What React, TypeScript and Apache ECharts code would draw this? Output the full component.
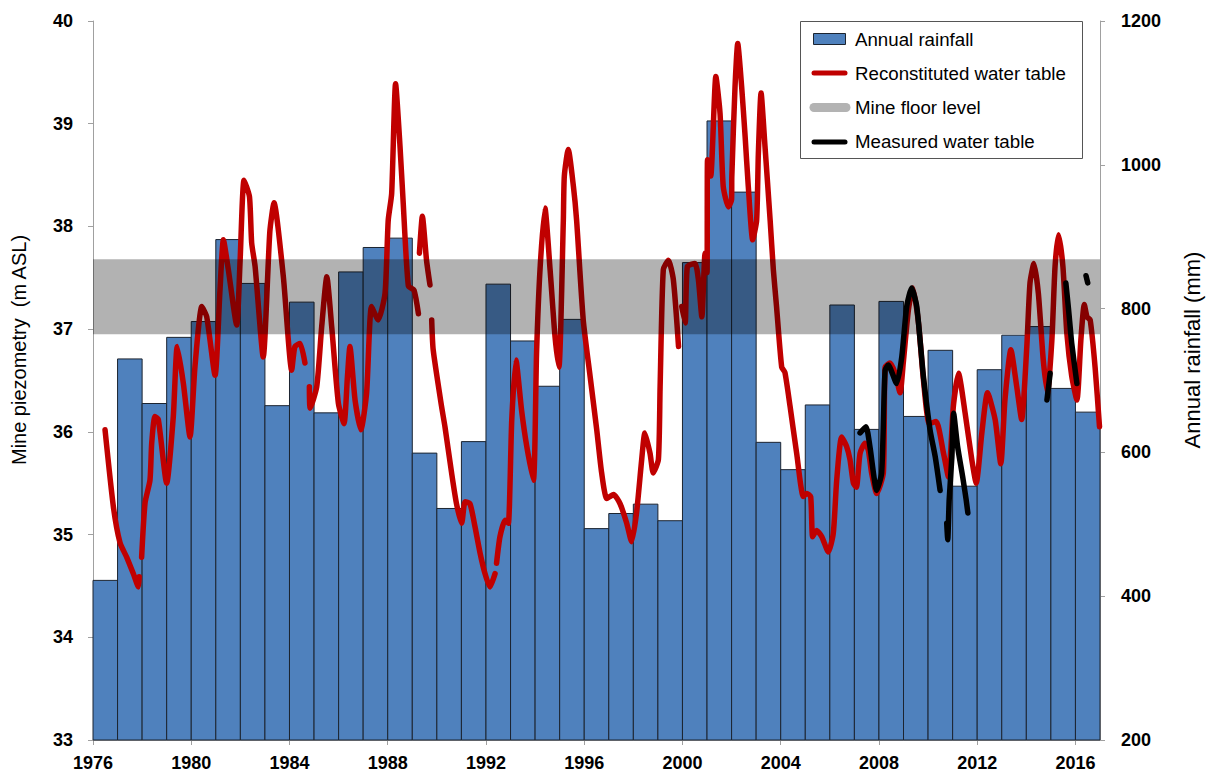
import React, { useEffect, useRef } from "react";
import * as echarts from "echarts";

// ---- Data ----
const rainfallYears = [
  1976, 1977, 1978, 1979, 1980, 1981, 1982, 1983, 1984, 1985, 1986, 1987, 1988, 1989,
  1990, 1991, 1992, 1993, 1994, 1995, 1996, 1997, 1998, 1999, 2000, 2001, 2002, 2003,
  2004, 2005, 2006, 2007, 2008, 2009, 2010, 2011, 2012, 2013, 2014, 2015, 2016,
];
const rainfallMm = [
  422, 730, 668, 760, 782, 896, 835, 665, 809, 655, 851, 885, 898, 599,
  522, 615, 834, 755, 692, 785, 494, 515, 528, 505, 864, 1061, 962, 614,
  576, 666, 805, 632, 810, 650, 742, 553, 715, 763, 775, 689, 656,
];

// Reconstituted water table (null = gap in the record)
const reconTime = [
  1976.49, 1976.83, 1977.1, 1977.37, 1977.64, 1977.85, 1977.88, 1977.93, 1977.98, 1978.12,
  1978.32, 1978.39, 1978.52, 1978.66, 1979.0, 1979.27, 1979.43, 1979.68, 1979.95, 1980.15,
  1980.43, 1980.63, 1980.97, 1981.17, 1981.31, 1981.51, 1981.85, 1981.99, 1982.15, 1982.37,
  1982.46, 1982.6, 1982.93, 1983.2, 1983.37, 1983.75, 1984.09, 1984.22, 1984.43, 1984.63,
  1984.72, 1984.81, 1984.84, 1985.11, 1985.31, 1985.52, 1985.72, 1985.99, 1986.22, 1986.36,
  1986.46, 1986.67, 1986.91, 1987.14, 1987.34, 1987.61, 1987.89, 1988.02, 1988.16, 1988.32,
  1988.5, 1988.63, 1988.84, 1989.07, 1989.25, 1989.27, 1989.29, 1989.41, 1989.58, 1989.72,
  1989.75, 1989.79, 1989.85, 1990.19, 1990.33, 1990.6, 1990.8, 1991.01, 1991.15, 1991.35,
  1991.55, 1991.76, 1991.96, 1992.16, 1992.37, 1992.4, 1992.43, 1992.57, 1992.78, 1992.91,
  1993.05, 1993.22, 1993.45, 1993.66, 1993.93, 1994.06, 1994.2, 1994.4, 1994.61, 1994.81,
  1994.97, 1995.15, 1995.19, 1995.35, 1995.56, 1995.69, 1995.96, 1996.24, 1996.51, 1996.71,
  1996.92, 1997.19, 1997.46, 1997.73, 1997.93, 1998.13, 1998.34, 1998.47, 1998.68, 1998.81,
  1999.02, 1999.09, 1999.22, 1999.43, 1999.63, 1999.84, 1999.9, 1999.97, 2000.11, 2000.2,
  2000.51, 2000.65, 2000.79, 2000.92, 2001.0, 2001.02, 2001.15, 2001.36, 2001.53, 2001.66,
  2001.87, 2002.0, 2002.01, 2002.14, 2002.25, 2002.41, 2002.55, 2002.68, 2002.86, 2003.02,
  2003.09, 2003.2, 2003.36, 2003.57, 2003.7, 2003.83, 2004.04, 2004.17, 2004.38, 2004.65,
  2004.92, 2005.06, 2005.22, 2005.3, 2005.46, 2005.67, 2005.94, 2006.14, 2006.28, 2006.48,
  2006.68, 2006.82, 2006.96, 2007.08, 2007.23, 2007.43, 2007.57, 2007.7, 2007.91, 2008.18,
  2008.25, 2008.45, 2008.66, 2008.86, 2008.99, 2009.2, 2009.38, 2009.61, 2009.81, 2010.05,
  2010.33, 2010.63, 2010.83, 2011.03, 2011.24, 2011.51, 2011.78, 2011.96, 2012.19, 2012.42,
  2012.73, 2012.96, 2013.13, 2013.37, 2013.61, 2013.81, 2014.02, 2014.15, 2014.31, 2014.49,
  2014.69, 2014.86, 2015.04, 2015.17, 2015.31, 2015.49, 2015.65, 2015.85, 2016.06, 2016.22,
  2016.36, 2016.47, 2016.6, 2016.8, 2016.98,
];
const reconLevel = [
  36.02, 35.27, 34.92, 34.78, 34.62, 34.49, 34.59, null, 34.78, 35.31,
  35.53, 35.89, 36.15, 36.12, 35.5, 36.15, 36.83, 36.47, 35.95, 36.63,
  37.22, 37.12, 36.55, 37.38, 37.87, 37.58, 37.04, 37.67, 38.45, 38.29,
  37.84, 37.61, 36.73, 37.95, 38.23, 37.51, 36.6, 36.83, 36.86, 36.67,
  null, 36.44, 36.23, 36.44, 37.02, 37.51, 37.02, 36.28, 36.08, 36.54,
  36.83, 36.31, 36.02, 36.38, 37.22, 37.09, 37.35, 38.06, 38.32, 39.39,
  38.78, 38.23, 37.42, 37.38, 37.15, null, 37.74, 38.1, 37.67, 37.43,
  null, 37.09, 36.8, 36.25, 36.05, 35.6, 35.3, 35.11, 35.32, 35.3,
  35.08, 34.82, 34.62, 34.49, 34.62, null, 34.72, 34.98, 35.14, 35.11,
  36.12, 36.7, 36.21, 35.86, 35.53, 36.77, 37.58, 38.18, 37.58, 36.93,
  36.63, 38.06, 38.49, 38.75, 38.39, 38.06, 37.09, 36.54, 36.02, 35.6,
  35.35, 35.39, 35.3, 35.11, 34.93, 35.21, 35.73, 35.99, 35.79, 35.6,
  35.73, 36.44, 37.58, 37.67, 37.48, 36.83, null, 37.22, 37.06, 37.61,
  37.64, 37.48, 37.12, 37.74, 37.55, 38.65, 38.49, 39.46, 39.1, 38.39,
  38.19, 38.26, 38.49, 39.36, 39.78, 39.36, 38.88, 38.39, 37.87, 38.06,
  38.71, 39.3, 38.78, 38.06, 37.58, 37.22, 36.63, 36.58, 36.25, 35.79,
  35.37, 35.4, 35.37, 34.98, 35.04, 34.98, 34.83, 35.01, 35.53, 35.95,
  35.86, 35.73, 35.5, 35.46, 35.79, 35.89, 35.82, 35.6, 35.4, 35.6,
  36.63, 36.67, 36.57, 36.38, 36.67, 37.19, 37.4, 37.06, 36.51, 36.08,
  36.1, 35.79, 35.56, 36.25, 36.57, 36.18, 35.73, 35.5, 35.99, 36.38,
  36.12, 35.69, 36.31, 36.8, 36.44, 36.12, 36.83, 37.45, 37.64, 37.35,
  36.7, 36.38, 36.89, 37.61, 37.92, 37.61, 36.96, 36.54, 36.31, 36.89,
  37.24, 37.12, 37.09, 36.63, 36.05,
];

// Measured water table (null = gap)
const measuredTime = [
  2007.23, 2007.47, 2007.63, 2007.91, 2008.11, 2008.25, 2008.38, 2008.72, 2008.93, 2009.13,
  2009.33, 2009.54, 2009.81, 2010.08, 2010.29, 2010.49, 2010.62, 2010.76, 2010.8, 2010.86,
  2010.97, 2011.04, 2011.2, 2011.41, 2011.55, 2011.62, 2013.0, 2014.84, 2014.97, 2015.3,
  2015.61, 2015.72, 2015.85, 2016.06, 2016.25, 2016.43, 2016.5,
];
const measuredLevel = [
  35.99, 36.05, 35.86, 35.43, 35.6, 36.6, 36.65, 36.47, 36.73, 37.22,
  37.4, 37.22, 36.54, 36.02, 35.76, 35.43, null, 35.11, 34.95, 35.34,
  35.76, 36.18, 35.86, 35.56, 35.34, 35.21, null, 36.31, 36.57, null,
  37.45, 37.19, 36.86, 36.47, null, 37.52, 37.45,
];

// Mine floor level band (m ASL)
const mineFloorBottom = 36.95;
const mineFloorTop = 37.68;

// Axis ticks
const yearTicks = [1976, 1980, 1984, 1988, 1992, 1996, 2000, 2004, 2008, 2012, 2016];
const levelRange = [33, 40];
const rainRange = [200, 1200];

const FONT = "'Liberation Sans', Arial, sans-serif";

export default function App() {
  const ref = useRef<HTMLDivElement>(null);

  useEffect(() => {
    if (!ref.current) return;
    const chart = echarts.init(ref.current, undefined, { renderer: "svg" });

    const toLine = (t: number[], v: (number | null)[]) =>
      t.map((x, i) => [x, v[i] === null ? "-" : v[i]]);

    const axisLineStyle = { color: "#a0a0a0", width: 1 };
    const tickLabel = { color: "#000", fontFamily: FONT, fontWeight: "bold" as const, fontSize: 18 };

    const option: any = {
      animation: false,
      backgroundColor: "#fff",
      grid: { left: 93, right: 110, top: 21, bottom: 41, containLabel: false },
      xAxis: {
        type: "value",
        min: 1976,
        max: 2017,
        interval: 4,
        splitLine: { show: false },
        axisLine: { show: true, lineStyle: axisLineStyle },
        axisTick: { show: true, length: 5, inside: false, lineStyle: axisLineStyle, customValues: yearTicks },
        axisLabel: {
          ...tickLabel,
          margin: 14,
          customValues: yearTicks,
          formatter: (v: number) => (v % 4 === 0 ? String(v) : ""),
        },
      },
      yAxis: [
        {
          type: "value",
          min: levelRange[0],
          max: levelRange[1],
          interval: 1,
          position: "left",
          splitLine: { show: false },
          axisLine: { show: true, lineStyle: axisLineStyle },
          axisTick: { show: true, length: 5, lineStyle: axisLineStyle },
          axisLabel: { ...tickLabel, margin: 20, formatter: (v: number) => String(v) },
        },
        {
          type: "value",
          min: rainRange[0],
          max: rainRange[1],
          interval: 200,
          position: "right",
          splitLine: { show: false },
          axisLine: { show: true, lineStyle: axisLineStyle },
          axisTick: { show: true, length: 5, lineStyle: axisLineStyle },
          axisLabel: { ...tickLabel, margin: 21, formatter: (v: number) => String(v) },
        },
      ],
      series: [
        {
          name: "Annual rainfall",
          type: "custom",
          xAxisIndex: 0,
          yAxisIndex: 1,
          z: 2,
          data: rainfallYears.map((y, i) => [y, rainfallMm[i]]),
          renderItem: (_p: any, api: any) => {
            const yr = api.value(0);
            const v = api.value(1);
            const p1 = api.coord([yr, v]);
            const p2 = api.coord([yr + 1, rainRange[0]]);
            return {
              type: "rect",
              shape: { x: p1[0], y: p1[1], width: p2[0] - p1[0], height: p2[1] - p1[1] },
              style: { fill: "#4f81bd", stroke: "#1c2430", lineWidth: 1 },
            };
          },
        },
        {
          name: "Reconstituted water table",
          type: "line",
          yAxisIndex: 0,
          z: 3,
          data: toLine(reconTime, reconLevel),
          showSymbol: false,
          symbol: "none",
          smooth: 0.2,
          connectNulls: false,
          lineStyle: { color: "#c00000", width: 5.5, cap: "round", join: "round" },
        },
        {
          name: "Mine floor level",
          type: "custom",
          yAxisIndex: 0,
          z: 4,
          data: [[mineFloorBottom, mineFloorTop]],
          renderItem: (_p: any, api: any) => {
            const lo = api.value(0);
            const hi = api.value(1);
            const a = api.coord([1976, hi]);
            const b = api.coord([2017, lo]);
            return {
              type: "rect",
              shape: { x: a[0], y: a[1], width: b[0] - a[0], height: b[1] - a[1] },
              style: { fill: "rgba(0,0,0,0.3)" },
            };
          },
        },
        {
          name: "Measured water table",
          type: "line",
          yAxisIndex: 0,
          z: 5,
          data: toLine(measuredTime, measuredLevel),
          showSymbol: false,
          symbol: "none",
          smooth: 0.2,
          connectNulls: false,
          lineStyle: { color: "#000", width: 5.5, cap: "round", join: "round" },
        },
      ],
      graphic: [
        {
          type: "text",
          x: 19,
          y: 350,
          rotation: Math.PI / 2,
          style: {
            text: "Mine piezometry  (m ASL)",
            fill: "#000",
            fontFamily: FONT,
            fontSize: 20,
            align: "center",
            verticalAlign: "middle",
            textAlign: "center",
            textVerticalAlign: "middle",
          },
        },
        {
          type: "text",
          x: 1192,
          y: 350,
          rotation: Math.PI / 2,
          style: {
            text: "Annual rainfall (mm)",
            fill: "#000",
            fontFamily: FONT,
            fontSize: 22,
            align: "center",
            verticalAlign: "middle",
            textAlign: "center",
            textVerticalAlign: "middle",
          },
        },
        {
          type: "group",
          z: 100,
          children: [
            {
              type: "rect",
              shape: { x: 800.5, y: 21.5, width: 282, height: 137 },
              style: { fill: "#fff", stroke: "#555", lineWidth: 1 },
            },
            {
              type: "rect",
              shape: { x: 813.5, y: 33.5, width: 32, height: 11 },
              style: { fill: "#4f81bd", stroke: "#1c2430", lineWidth: 1 },
            },
            {
              type: "line",
              shape: { x1: 814, y1: 73, x2: 845, y2: 73 },
              style: { stroke: "#c00000", lineWidth: 5, lineCap: "round" },
            },
            {
              type: "line",
              shape: { x1: 814, y1: 107.5, x2: 846, y2: 107.5 },
              style: { stroke: "#b3b3b3", lineWidth: 9, lineCap: "round" },
            },
            {
              type: "line",
              shape: { x1: 814, y1: 142, x2: 845, y2: 142 },
              style: { stroke: "#000", lineWidth: 5, lineCap: "round" },
            },
            ...[
              ["Annual rainfall", 39],
              ["Reconstituted water table", 73],
              ["Mine floor level", 107.5],
              ["Measured water table", 141.5],
            ].map(([t, y]) => ({
              type: "text",
              x: 855,
              y: y as number,
              style: {
                text: t as string,
                fill: "#000",
                fontFamily: FONT,
                fontSize: 18.7,
                align: "left",
                verticalAlign: "middle",
                textAlign: "left",
                textVerticalAlign: "middle",
              },
            })),
          ],
        },
      ],
    };

    chart.setOption(option);
    return () => chart.dispose();
  }, []);

  return (
    <div
      ref={ref}
      style={{ position: "fixed", left: 0, top: 0, width: 1210, height: 781, background: "#fff" }}
    />
  );
}
